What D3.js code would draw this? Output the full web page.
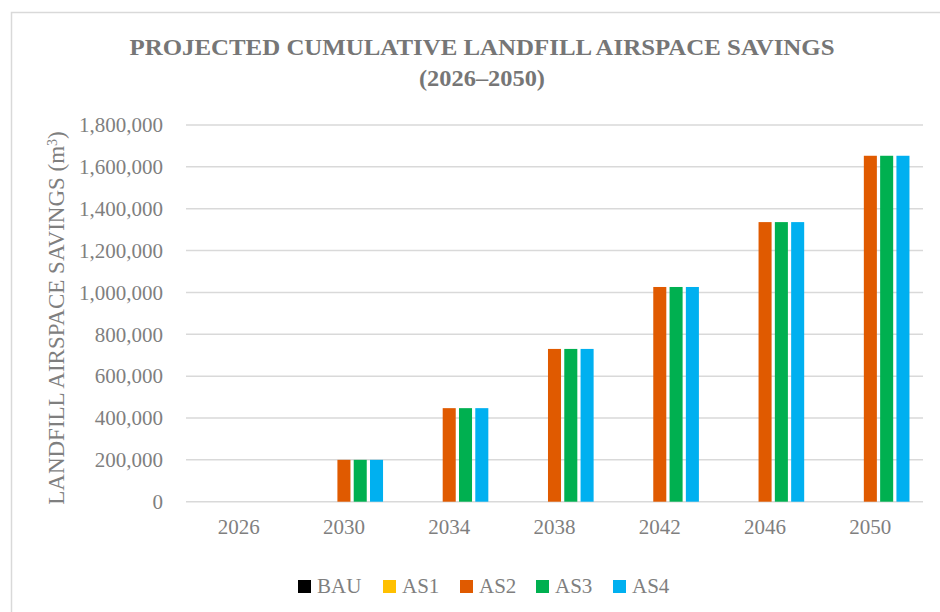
<!DOCTYPE html>
<html>
<head>
<meta charset="utf-8">
<script src="https://cdn.jsdelivr.net/npm/d3@7"></script>
<style>
  body { margin: 0; background: #fff; }
  text { font-family: "Liberation Serif", serif; }
</style>
</head>
<body>
<div id="container"></div>
<script>
// data
let years = ["2026", "2030", "2034", "2038", "2042", "2046", "2050"];
let seriesNames = ["BAU", "AS1", "AS2", "AS3", "AS4"];
let seriesColors = ["#000000", "#FFC000", "#E05A00", "#00B050", "#00B0F0"];
let bau = [0, 0, 0, 0, 0, 0, 0];
let as1 = [0, 0, 0, 0, 0, 0, 0];
let as2 = [0, 200000, 447000, 730000, 1026000, 1336000, 1653000];
let as3 = [0, 200000, 447000, 730000, 1026000, 1336000, 1653000];
let as4 = [0, 200000, 447000, 730000, 1026000, 1336000, 1653000];
let yTicks = [0, 200000, 400000, 600000, 800000, 1000000, 1200000, 1400000, 1600000, 1800000];

let allSeries = [bau, as1, as2, as3, as4];

let w = 940;
let h = 612;
let grey = "#7f7f7f";

let viz = d3.select("#container")
  .append("svg")
    .attr("width", w)
    .attr("height", h)
;

// chart frame
viz.append("rect")
  .attr("x", 11.5)
  .attr("y", 12.5)
  .attr("width", w)
  .attr("height", h)
  .attr("fill", "white")
  .attr("stroke", "#d9d9d9")
  .attr("stroke-width", 1.5)
;

let x0 = d3.scaleBand()
  .domain(years)
  .range([186, 923])
  .paddingInner(0.226)
  .paddingOuter(0.113)
;

let x1 = d3.scaleBand()
  .domain(seriesNames)
  .range([0, x0.bandwidth()])
  .paddingInner(0.2)
  .paddingOuter(0.1)
;

let y = d3.scaleLinear()
  .domain([0, 1800000])
  .range([501.7, 125])
;

// gridlines
viz.append("g")
  .selectAll("line")
  .data(yTicks)
  .enter()
  .append("line")
    .attr("x1", 186)
    .attr("x2", 923)
    .attr("y1", d => y(d))
    .attr("y2", d => y(d))
    .attr("stroke", "#d9d9d9")
    .attr("stroke-width", 1.5)
;

// y axis labels
let yAxis = d3.axisLeft(y)
  .tickValues(yTicks)
  .tickFormat(d3.format(","))
  .tickSize(0)
  .tickPadding(0)
;
let yG = viz.append("g")
  .attr("transform", "translate(163,0)")
  .call(yAxis)
;
yG.select(".domain").remove();
yG.selectAll("text")
  .attr("fill", grey)
  .style("font-size", "21px")
  .style("font-family", "Liberation Serif, serif")
;

// x axis labels
let xAxis = d3.axisBottom(x0).tickSize(0).tickPadding(0);
let xG = viz.append("g")
  .attr("transform", "translate(0,519)")
  .call(xAxis)
;
xG.select(".domain").remove();
xG.selectAll("text")
  .attr("fill", grey)
  .style("font-size", "21px")
  .style("font-family", "Liberation Serif, serif")
;

// bars
let groups = viz.append("g")
  .selectAll(".datagroup")
  .data(years)
  .enter()
  .append("g")
    .attr("class", "datagroup")
    .attr("transform", d => "translate(" + x0(d) + ",0)")
;

groups.selectAll("rect")
  .data((d, i) => seriesNames.map((s, j) => ({ name: s, value: allSeries[j][i], color: seriesColors[j] })))
  .enter()
  .append("rect")
    .attr("x", d => x1(d.name))
    .attr("width", x1.bandwidth())
    .attr("y", d => y(d.value))
    .attr("height", d => y(0) - y(d.value))
    .attr("fill", d => d.color)
;

// title
let title = viz.append("text")
  .attr("text-anchor", "middle")
  .attr("fill", "#767676")
  .style("font-size", "23px")
  .style("font-weight", "bold")
;
title.append("tspan").attr("x", 482).attr("y", 55)
  .attr("textLength", 705).attr("lengthAdjust", "spacingAndGlyphs")
  .text("PROJECTED CUMULATIVE LANDFILL AIRSPACE SAVINGS");
title.append("tspan").attr("x", 482).attr("y", 86)
  .attr("textLength", 126).attr("lengthAdjust", "spacingAndGlyphs")
  .text("(2026–2050)");

// y axis title
let yTitle = viz.append("text")
  .attr("transform", "translate(64,318) rotate(-90)")
  .attr("text-anchor", "middle")
  .attr("fill", grey)
  .style("font-size", "23px")
;
yTitle.append("tspan").text("LANDFILL AIRSPACE SAVINGS (m");
yTitle.append("tspan").attr("baseline-shift", "super").style("font-size", "14px").text("3");
yTitle.append("tspan").text(")");

// legend
let legendX = [298, 383, 460, 536, 613];
let legend = viz.append("g")
  .selectAll(".legenditem")
  .data(seriesNames)
  .enter()
  .append("g")
    .attr("class", "legenditem")
    .attr("transform", (d, i) => "translate(" + legendX[i] + ",580)")
;
legend.append("rect")
  .attr("width", 13)
  .attr("height", 13)
  .attr("fill", (d, i) => seriesColors[i])
;
legend.append("text")
  .attr("x", 19)
  .attr("y", 13)
  .attr("fill", grey)
  .style("font-size", "21px")
  .text(d => d)
;
</script>
</body>
</html>
